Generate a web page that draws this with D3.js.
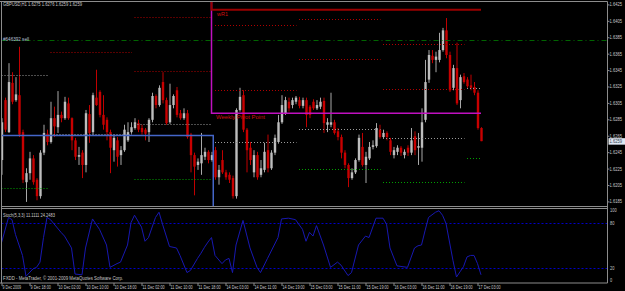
<!DOCTYPE html>
<html>
<head>
<meta charset="utf-8">
<script src="https://cdn.jsdelivr.net/npm/d3@7"></script>
<style>
  html, body { margin: 0; padding: 0; background: #000; }
  svg { display: block; }
  text { font-family: "Liberation Sans", Arial, sans-serif; }
</style>
</head>
<body>
<div id="chart"></div>
<script>
// GBPUSD H1 bars, 9 Dec 10:00 .. 17 Dec 04:00 (138 bars)
var timeLabels = ["9 Dec 2009", "9 Dec 18:00", "10 Dec 02:00", "10 Dec 10:00", "10 Dec 18:00",
  "11 Dec 02:00", "11 Dec 10:00", "11 Dec 18:00", "14 Dec 03:00", "14 Dec 11:00", "14 Dec 19:00",
  "15 Dec 03:00", "15 Dec 11:00", "15 Dec 19:00", "16 Dec 03:00", "16 Dec 11:00", "16 Dec 19:00",
  "17 Dec 03:00"];

var opens = [1.6236, 1.6309, 1.6270, 1.6330, 1.6309, 1.6315, 1.6270, 1.6209, 1.6220, 1.6238,
  1.6212, 1.6192, 1.6245, 1.6268, 1.6258, 1.6287, 1.6276, 1.6291, 1.6287, 1.6305,
  1.6287, 1.6260, 1.6240, 1.6245, 1.6230, 1.6292, 1.6270, 1.6312, 1.6319, 1.6291,
  1.6285, 1.6270, 1.6248, 1.6260, 1.6242, 1.6248, 1.6260, 1.6270, 1.6275, 1.6281,
  1.6275, 1.6273, 1.6270, 1.6285, 1.6314, 1.6303, 1.6331, 1.6309, 1.6282, 1.6303,
  1.6321, 1.6293, 1.6287, 1.6293, 1.6267, 1.6242, 1.6230, 1.6232, 1.6240, 1.6246,
  1.6236, 1.6248, 1.6215, 1.6236, 1.6221, 1.6218, 1.6214, 1.6192, 1.6297, 1.6315,
  1.6273, 1.6251, 1.6221, 1.6242, 1.6218, 1.6224, 1.6248, 1.6226, 1.6245, 1.6258,
  1.6282, 1.6293, 1.6307, 1.6303, 1.6307, 1.6309, 1.6302, 1.6309, 1.6301, 1.6307,
  1.6299, 1.6301, 1.6308, 1.6279, 1.6279, 1.6282, 1.6271, 1.6264, 1.6245, 1.6230,
  1.6214, 1.6221, 1.6236, 1.6252, 1.6230, 1.6238, 1.6252, 1.6253, 1.6273, 1.6264,
  1.6269, 1.6260, 1.6242, 1.6246, 1.6251, 1.6242, 1.6251, 1.6245, 1.6265, 1.6251,
  1.6251, 1.6285, 1.6334, 1.6363, 1.6358, 1.6358, 1.6370, 1.6394, 1.6364, 1.6324,
  1.6348, 1.6309, 1.6338, 1.6334, 1.6327, 1.6325, 1.6318, 1.6275];
var highs = [1.6287, 1.6312, 1.6354, 1.6343, 1.6337, 1.6374, 1.6273, 1.6226, 1.6246, 1.6242,
  1.6214, 1.6248, 1.6279, 1.6273, 1.6307, 1.6301, 1.6320, 1.6295, 1.6313, 1.6312,
  1.6288, 1.6263, 1.6252, 1.6248, 1.6297, 1.6303, 1.6318, 1.6346, 1.6321, 1.6315,
  1.6288, 1.6273, 1.6267, 1.6264, 1.6253, 1.6279, 1.6282, 1.6282, 1.6287, 1.6285,
  1.6279, 1.6275, 1.6287, 1.6318, 1.6316, 1.6327, 1.6343, 1.6312, 1.6329, 1.6316,
  1.6325, 1.6297, 1.6299, 1.6297, 1.6269, 1.6245, 1.6238, 1.6269, 1.6251, 1.6248,
  1.6246, 1.6252, 1.6230, 1.6248, 1.6224, 1.6221, 1.6217, 1.6299, 1.6324, 1.6321,
  1.6275, 1.6258, 1.6248, 1.6246, 1.6236, 1.6257, 1.6267, 1.6248, 1.6267, 1.6291,
  1.6315, 1.6313, 1.6312, 1.6312, 1.6314, 1.6313, 1.6312, 1.6312, 1.6303, 1.6310,
  1.6309, 1.6312, 1.6312, 1.6287, 1.6318, 1.6285, 1.6275, 1.6267, 1.6248, 1.6232,
  1.6226, 1.6238, 1.6267, 1.6269, 1.6246, 1.6258, 1.6260, 1.6281, 1.6279, 1.6273,
  1.6271, 1.6263, 1.6252, 1.6254, 1.6253, 1.6249, 1.6254, 1.6275, 1.6271, 1.6269,
  1.6299, 1.6358, 1.6370, 1.6370, 1.6368, 1.6391, 1.6397, 1.6409, 1.6368, 1.6352,
  1.6379, 1.6340, 1.6342, 1.6337, 1.6340, 1.6331, 1.6321, 1.6276];
var lows = [1.6218, 1.6270, 1.6269, 1.6304, 1.6307, 1.6264, 1.6208, 1.6185, 1.6212, 1.6206,
  1.6187, 1.6189, 1.6242, 1.6254, 1.6256, 1.6264, 1.6269, 1.6282, 1.6285, 1.6285,
  1.6248, 1.6236, 1.6230, 1.6214, 1.6221, 1.6257, 1.6267, 1.6302, 1.6288, 1.6273,
  1.6260, 1.6220, 1.6234, 1.6228, 1.6230, 1.6246, 1.6258, 1.6268, 1.6273, 1.6270,
  1.6267, 1.6260, 1.6258, 1.6282, 1.6299, 1.6301, 1.6305, 1.6279, 1.6280, 1.6299,
  1.6288, 1.6285, 1.6285, 1.6262, 1.6221, 1.6193, 1.6224, 1.6218, 1.6236, 1.6232,
  1.6234, 1.6212, 1.6206, 1.6219, 1.6212, 1.6208, 1.6189, 1.6189, 1.6295, 1.6270,
  1.6221, 1.6230, 1.6215, 1.6212, 1.6215, 1.6221, 1.6221, 1.6224, 1.6242, 1.6256,
  1.6280, 1.6291, 1.6295, 1.6299, 1.6304, 1.6299, 1.6299, 1.6276, 1.6287, 1.6297,
  1.6297, 1.6298, 1.6269, 1.6270, 1.6276, 1.6267, 1.6260, 1.6238, 1.6226, 1.6203,
  1.6212, 1.6219, 1.6234, 1.6228, 1.6208, 1.6236, 1.6249, 1.6251, 1.6262, 1.6262,
  1.6260, 1.6242, 1.6238, 1.6242, 1.6241, 1.6238, 1.6241, 1.6242, 1.6242, 1.6230,
  1.6234, 1.6282, 1.6330, 1.6354, 1.6343, 1.6355, 1.6368, 1.6360, 1.6319, 1.6321,
  1.6303, 1.6299, 1.6329, 1.6324, 1.6321, 1.6315, 1.6273, 1.6259];
var closes = [1.6282, 1.6273, 1.6331, 1.6307, 1.6316, 1.6267, 1.6212, 1.6220, 1.6238, 1.6209,
  1.6192, 1.6245, 1.6269, 1.6258, 1.6287, 1.6277, 1.6291, 1.6287, 1.6307, 1.6287,
  1.6260, 1.6240, 1.6242, 1.6230, 1.6293, 1.6269, 1.6315, 1.6303, 1.6291, 1.6279,
  1.6270, 1.6251, 1.6263, 1.6240, 1.6248, 1.6273, 1.6270, 1.6276, 1.6282, 1.6273,
  1.6270, 1.6268, 1.6285, 1.6314, 1.6303, 1.6324, 1.6309, 1.6281, 1.6303, 1.6314,
  1.6291, 1.6287, 1.6293, 1.6264, 1.6242, 1.6228, 1.6234, 1.6242, 1.6246, 1.6236,
  1.6242, 1.6215, 1.6224, 1.6221, 1.6215, 1.6212, 1.6192, 1.6297, 1.6313, 1.6273,
  1.6248, 1.6236, 1.6242, 1.6215, 1.6226, 1.6246, 1.6226, 1.6245, 1.6263, 1.6282,
  1.6303, 1.6309, 1.6299, 1.6309, 1.6312, 1.6302, 1.6309, 1.6291, 1.6291, 1.6299,
  1.6303, 1.6307, 1.6281, 1.6282, 1.6282, 1.6269, 1.6264, 1.6245, 1.6230, 1.6214,
  1.6221, 1.6236, 1.6263, 1.6230, 1.6240, 1.6252, 1.6254, 1.6275, 1.6264, 1.6269,
  1.6264, 1.6246, 1.6248, 1.6251, 1.6245, 1.6246, 1.6245, 1.6260, 1.6248, 1.6253,
  1.6282, 1.6331, 1.6364, 1.6358, 1.6362, 1.6370, 1.6394, 1.6364, 1.6321, 1.6348,
  1.6305, 1.6337, 1.6331, 1.6326, 1.6324, 1.6318, 1.6275, 1.6259];

// daily pivot levels, one entry per trading day (bar ranges)
var dayStart = [0, 14, 38, 61, 85, 109, 133];
var dayEnd = [13, 37, 60, 84, 108, 132, 137];
var dayR2 = [null, null, 1.6410, 1.6401, 1.6408, 1.6377, null];
var dayR1 = [null, 1.6368, 1.6344, 1.6321, 1.6359, 1.6323, null];
var dayPivot = [1.6340, 1.6268, 1.6280, 1.6258, 1.6274, 1.6263, 1.6324];
var dayS1 = [1.6202, null, 1.6213, 1.6180, 1.6225, 1.6209, 1.6238];

// weekly levels: previous week / current week
var weekStart = [0, 61];
var weekEnd = [60, 137];
var weekR1 = [1.6520, 1.6419];
var weekPivot = [1.6480, 1.6293];
var weekS1 = [1.6266, 1.6150];

var orderPrice = 1.6382;

// stochastic (5,3,3) main line, read at its turning points
var stochBar = [0, 2, 3, 4, 6, 7, 9, 10, 11, 12, 13, 14, 17, 18, 20, 21, 23, 24, 26, 28,
  30, 31, 33, 34, 36, 37, 38, 40, 41, 42, 44, 45, 46, 48, 50, 51, 53, 54, 56, 57,
  58, 59, 60, 61, 63, 64, 65, 66, 67, 69, 71, 73, 74, 76, 79, 80, 82, 84, 86, 87,
  88, 89, 90, 92, 94, 96, 97, 99, 100, 102, 104, 105, 107, 109, 110, 111, 113, 116, 118, 119,
  120, 121, 122, 124, 125, 126, 127, 128, 129, 130, 131, 132, 133, 134, 135, 136, 137];
var stochVal = [54, 88, 85, 65, 37, 9, 19, 21, 28, 61, 88, 85, 68, 63, 47, 12, 11, 47, 86, 72,
  51, 21, 26, 28, 51, 81, 91, 75, 56, 61, 88, 95, 79, 49, 47, 37, 14, 17, 33, 40,
  48, 55, 61, 37, 26, 31, 33, 14, 51, 84, 47, 21, 14, 33, 61, 86, 87, 85, 72, 56,
  68, 63, 77, 51, 21, 28, 24, 10, 14, 51, 63, 61, 87, 87, 79, 47, 23, 21, 47, 50,
  51, 70, 88, 95, 97, 91, 80, 55, 30, 8, 15, 22, 35, 37, 37, 26, 11];

var priceTicks = [1.6185, 1.6205, 1.6225, 1.6245, 1.6265, 1.6285, 1.6305, 1.6325, 1.6345, 1.6365, 1.6385, 1.6405, 1.6425];
var stochTicks = [0, 20, 80, 100];
var stochLevels = [20, 80];

var W = 625, H = 291;
var left = 1.5, right = 607.5;
var mainTop = 1.5, mainBottom = 206.5;
var subTop = 208.5, subBottom = 283;

var svg = d3.select("#chart")
  .append("svg")
    .attr("width", W)
    .attr("height", H);

svg.append("rect").attr("width", W).attr("height", H).attr("fill", "#000");

var defs = svg.append("defs");
defs.append("clipPath").attr("id", "mainClip")
  .append("rect").attr("x", left).attr("y", mainTop).attr("width", right - left).attr("height", mainBottom - mainTop + 0.5);
defs.append("clipPath").attr("id", "subClip")
  .append("rect").attr("x", left).attr("y", subTop).attr("width", right - left).attr("height", subBottom - subTop);

// scales
var x = d3.scaleLinear().domain([0, 137]).range([1.5, 481]);
var y = d3.scaleLinear().domain([1.6185, 1.6425]).range([201.9, 4.9]);
var ys = d3.scaleLinear().domain([0, 100]).range([283, 208.5]);

var main = svg.append("g").attr("clip-path", "url(#mainClip)");

// candles
var bars = d3.range(opens.length);
main.selectAll(".wick")
  .data(bars)
  .enter()
  .append("line")
    .attr("x1", function(i) { return x(i) + 0.5; })
    .attr("x2", function(i) { return x(i) + 0.5; })
    .attr("y1", function(i) { return y(highs[i]); })
    .attr("y2", function(i) { return y(lows[i]); })
    .attr("stroke", function(i) { return closes[i] >= opens[i] ? "#a8a8a8" : "#c00000"; })
    .attr("stroke-width", 1);

main.selectAll(".body")
  .data(bars)
  .enter()
  .append("rect")
    .attr("x", function(i) { return x(i) - 0.7; })
    .attr("width", 2.4)
    .attr("y", function(i) { return y(Math.max(opens[i], closes[i])); })
    .attr("height", function(i) { return Math.max(1, Math.abs(y(opens[i]) - y(closes[i]))); })
    .attr("fill", function(i) { return closes[i] >= opens[i] ? "#bdbdbd" : "#c80000"; });

// daily pivot dotted lines
function dayLevel(values, color) {
  values.forEach(function(v, k) {
    if (v == null) return;
    main.append("line")
      .attr("x1", x(dayStart[k])).attr("x2", x(dayEnd[k]) + 1)
      .attr("y1", Math.round(y(v)) + 0.5).attr("y2", Math.round(y(v)) + 0.5)
      .attr("stroke", color)
      .attr("stroke-width", 1)
      .attr("stroke-dasharray", "1 2");
  });
}
dayLevel(dayR2, "#b00000");
dayLevel(dayR1, "#b00000");
dayLevel(dayPivot, "#9a9a9a");
dayLevel(dayS1, "#00a000");

// order line
main.append("line")
  .attr("x1", left).attr("x2", right)
  .attr("y1", Math.round(y(orderPrice)) + 0.5).attr("y2", Math.round(y(orderPrice)) + 0.5)
  .attr("stroke", "#006400")
  .attr("stroke-dasharray", "5 3 1 3");

// weekly lines (step at the week change)
function weekLine(values, color, width, curve) {
  var pts = [];
  values.forEach(function(v, k) {
    pts.push([weekStart[k], v]);
    pts.push([weekEnd[k], v]);
  });
  main.append("path")
    .attr("d", d3.line()
      .x(function(d) { return x(d[0]); })
      .y(function(d) { return y(d[1]); })
      .curve(curve)(pts))
    .attr("fill", "none")
    .attr("stroke", color)
    .attr("stroke-width", width);
}
weekLine(weekS1, "#4466c8", 1.5, d3.curveStep);
weekLine(weekPivot, "#c010c0", 1.5, d3.curveStepBefore);
weekLine(weekR1, "#9a0000", 2, d3.curveStepBefore);

// texts
function label(tx, ty, str, len, color, size) {
  var t = svg.append("text")
    .attr("x", tx).attr("y", ty)
    .attr("fill", color)
    .attr("font-size", size || 5.5)
    .attr("dominant-baseline", "middle")
    .text(str);
  if (len) t.attr("textLength", len).attr("lengthAdjust", "spacingAndGlyphs");
  return t;
}

label(3, 5, "GBPUSD,H1  1.6275 1.6276 1.6259 1.6259", 79, "#c8c8c8");
label(3, 39.5, "#646392 sell", 26, "#b8c0d8");
label(217, 14, "wR1", 11, "#d01010", 6);
label(216, 117.5, "Weekly Pivot Point", 49, "#d01010", 6);

// stochastic panel
var sub = svg.append("g").attr("clip-path", "url(#subClip)");
stochLevels.forEach(function(v) {
  sub.append("line")
    .attr("x1", left).attr("x2", right)
    .attr("y1", Math.round(ys(v)) + 0.5).attr("y2", Math.round(ys(v)) + 0.5)
    .attr("stroke", "#0000c8")
    .attr("stroke-dasharray", "2 2");
});
sub.append("path")
  .attr("d", d3.line()
    .x(function(d, k) { return x(stochBar[k]); })
    .y(function(d) { return ys(d); })(stochVal))
  .attr("fill", "none")
  .attr("stroke", "#1818b0")
  .attr("stroke-width", 1);

label(3, 215.5, "Stoch(5,3,3) 11.1111 24.2483", 52, "#c8c8c8");
label(3, 278.5, "FXDD - MetaTrader, \u00a9 2001-2009 MetaQuotes Software Corp.", 120, "#c8c8c8");

// frame
var frame = svg.append("g").attr("stroke", "#8c8c8c").attr("stroke-width", 1);
frame.append("line").attr("x1", 0).attr("x2", right).attr("y1", mainTop).attr("y2", mainTop);
frame.append("line").attr("x1", left).attr("x2", left).attr("y1", mainTop).attr("y2", subBottom);
frame.append("line").attr("x1", right).attr("x2", right).attr("y1", mainTop).attr("y2", subBottom);
frame.append("line").attr("x1", left).attr("x2", right).attr("y1", mainBottom).attr("y2", mainBottom);
frame.append("line").attr("x1", left).attr("x2", right).attr("y1", subTop).attr("y2", subTop);
frame.append("line").attr("x1", 0).attr("x2", right).attr("y1", subBottom).attr("y2", subBottom);

// price axis
priceTicks.forEach(function(p) {
  frame.append("line").attr("x1", right).attr("x2", right + 2).attr("y1", y(p)).attr("y2", y(p));
  label(609.5, y(p), p.toFixed(4), 12.5, "#c8c8c8", 5.5);
});
svg.append("rect")
  .attr("x", 608.5).attr("y", y(closes[closes.length - 1]) - 3)
  .attr("width", 16.5).attr("height", 6.5)
  .attr("fill", "#dfe7f3");
label(609.5, y(closes[closes.length - 1]) + 0.3, closes[closes.length - 1].toFixed(4), 12.5, "#303848", 5.5);

// stochastic axis
var stochLabelY = {0: 280.5, 20: 268.5, 80: 224, 100: 211};
stochTicks.forEach(function(v) {
  var s = String(v);
  label(610, stochLabelY[v], s, s.length * 2.2, "#c8c8c8", 5.5);
});

// time axis
timeLabels.forEach(function(t, k) {
  var bx = x(k * 8);
  frame.append("line").attr("x1", bx + 0.5).attr("x2", bx + 0.5).attr("y1", subBottom).attr("y2", subBottom + 3);
  label(bx + 1, 288, t, t.length * 1.85, "#c8c8c8", 5);
});
</script>
</body>
</html>
